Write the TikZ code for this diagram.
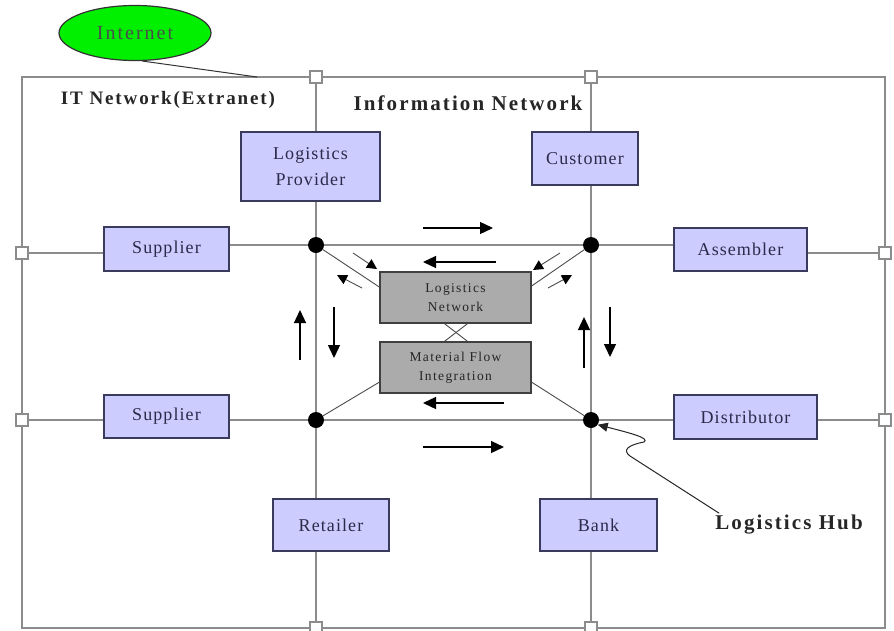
\documentclass[tikz,border=0pt]{standalone}
\usepackage{fontspec}
\setmainfont{Liberation Serif}
\newfontfamily\boxfont[LetterSpace=6]{Liberation Serif}
\newfontfamily\grayfont[LetterSpace=10]{Liberation Serif}
\newfontfamily\headfont[LetterSpace=10]{Liberation Serif}
\usetikzlibrary{arrows.meta,shapes.geometric,calc}
\definecolor{lav}{HTML}{CCCCFF}
\definecolor{lavborder}{HTML}{3A3A5C}
\definecolor{netgray}{HTML}{8C8C8C}
\definecolor{boxgray}{HTML}{ABABAB}
\definecolor{inetgreen}{HTML}{00F000}
\definecolor{txtblue}{HTML}{2A2A4A}
\begin{document}
\begin{tikzpicture}[x=1pt,y=-1pt,
 lbox/.style={draw=lavborder,line width=1.3pt,fill=lav,text=txtblue,align=center,inner sep=0pt,font=\boxfont\fontsize{18}{26}\selectfont},
 gbox/.style={draw=black!75,line width=1.3pt,fill=boxgray,text=black!85,align=center,inner sep=0pt,minimum width=151pt,minimum height=51pt,font=\grayfont\fontsize{13.5}{19}\selectfont},
 port/.style={draw=netgray,fill=white,line width=1.2pt,minimum size=12pt,inner sep=0pt},
 hub/.style={circle,fill=black,minimum size=16pt,inner sep=0pt},
 net/.style={draw=netgray,line width=1.8pt},
 spoke/.style={draw=black!70,line width=0.9pt},
 flow/.style={draw=black,line width=1.3pt,-{Triangle[length=13pt,width=12pt]}},
 small/.style={draw=black!70,line width=0.9pt,-{Triangle[length=10pt,width=10pt,color=black]}},
 head/.style={font=\headfont\bfseries\fontsize{21}{25}\selectfont,text=black!85,inner sep=0pt}
]
\useasboundingbox (0,0) rectangle (894,630);
\fill[white] (0,0) rectangle (894,630);

% outer frame
\draw[draw=netgray,line width=1.4pt] (22,77) rectangle (885,628);

% internet
\node[ellipse,draw=black!80,line width=1.2pt,fill=inetgreen,minimum width=152pt,minimum height=55pt,inner sep=0pt,text=black!70,font=\grayfont\fontsize{20}{24}\selectfont] (inet) at (135,33) {Internet};
\coordinate (inetend) at (257,77);
\draw[black!80,line width=1pt] (inet.-76) -- (inetend);

% ports
\node[port] (pt1) at (316,77) {};
\node[port] (pt2) at (591,77) {};
\node[port] (pl1) at (22,253) {};
\node[port] (pl2) at (22,420) {};
\node[port] (pr1) at (885,253) {};
\node[port] (pr2) at (885,420) {};
\node[port] (pb1) at (316,628) {};
\node[port] (pb2) at (591,628) {};

% hubs
\node[hub] (h1) at (316,245) {};
\node[hub] (h2) at (591,245) {};
\node[hub] (h3) at (316,420) {};
\node[hub] (h4) at (591,420) {};

% partner boxes
\node[lbox,minimum width=139pt,minimum height=69pt] (lp) at (310.5,166.5) {Logistics\\Provider};
\node[lbox,minimum width=106pt,minimum height=53pt] (cust) at (585,158.5) {Customer};
\node[lbox,minimum width=125pt,minimum height=44pt] (sup1) at (166.5,249) {Supplier};
\node[lbox,minimum width=133pt,minimum height=43pt] (asm) at (740.5,249.5) {Assembler};
\node[lbox,minimum width=125pt,minimum height=43pt] (sup2) at (166.5,416.5) {Supplier};
\node[lbox,minimum width=143pt,minimum height=44pt] (dist) at (745.5,417) {Distributor};
\node[lbox,minimum width=116pt,minimum height=52pt] (ret) at (331,525) {Retailer};
\node[lbox,minimum width=117pt,minimum height=52pt] (bank) at (598.5,525) {Bank};

% gray boxes
\node[gbox] (ln) at (455.5,297.5) {Logistics\\Network};
\node[gbox] (mf) at (455.5,367.5) {Material Flow\\Integration};

% network lines
\draw[net] (pt1) -- (pt1 |- lp.north);
\draw[net] (pt1 |- lp.south) -- (h1);
\draw[net] (h1) -- (h3);
\draw[net] (h3) -- (h3 |- ret.north);
\draw[net] (h3 |- ret.south) -- (pb1);
\draw[net] (pt2) -- (pt2 |- cust.north);
\draw[net] (pt2 |- cust.south) -- (h2);
\draw[net] (h2) -- (h4);
\draw[net] (h4) -- (h4 |- bank.north);
\draw[net] (h4 |- bank.south) -- (pb2);
\draw[net] (pl1) -- (pl1 -| sup1.west);
\draw[net] (h1 -| sup1.east) -- (h1);
\draw[net] (h1) -- (h2);
\draw[net] (h2) -- (h2 -| asm.west);
\draw[net] (pr1 -| asm.east) -- (pr1);
\draw[net] (pl2) -- (sup2.west |- pl2);
\draw[net] (sup2.east |- h3) -- (h3);
\draw[net] (h3) -- (h4);
\draw[net] (h4) -- (dist.west |- h4);
\draw[net] (dist.east |- pr2) -- (pr2);

% spokes to gray boxes
\draw[spoke] (h1) -- ($(ln.north west)!0.3!(ln.south west)$);
\draw[spoke] (h2) -- ($(ln.north east)!0.28!(ln.south east)$);
\draw[spoke] (h3) -- ($(mf.north west)!0.78!(mf.south west)$);
\draw[spoke] (h4) -- ($(mf.north east)!0.78!(mf.south east)$);
\draw[spoke] ($(ln.south)+(-11,0)$) -- ($(mf.north)+(12,0)$);
\draw[spoke] ($(ln.south)+(12,0)$) -- ($(mf.north)+(-11,0)$);

% flow arrows
\draw[flow] (423,228) -- (493,228);
\draw[flow] (496,262) -- (423,262);
\draw[flow] (504,403) -- (423,403);
\draw[flow] (423,447) -- (504,447);
\draw[flow] (300,360) -- (300,310);
\draw[flow] (334,307) -- (334,358);
\draw[flow] (584,368) -- (584,317);
\draw[flow] (610,307) -- (610,357);
\draw[small] (353,253) -- (377,269);
\draw[small] (362,288) -- (337,275);
\draw[small] (560,253) -- (533,270);
\draw[small] (548,288) -- (572,275);

% labels
\node[head,font=\headfont\bfseries\fontsize{19}{23}\selectfont] (itnet) at (168,100) {IT Network(Extranet)};
\node[head] (infonet) at (468,103) {Information Network};
\node[head] (lhub) at (789,525) {Logistics Hub};

% callout
\draw[black!85,line width=1pt,-{Triangle[length=10pt,width=9pt]}] (lhub.north west) ++(4,-2) -- (630,456) .. controls (622,450) and (628,445) .. (644,442) .. controls (650,438) and (630,433) .. (h4.-35);
\end{tikzpicture}
\end{document}
